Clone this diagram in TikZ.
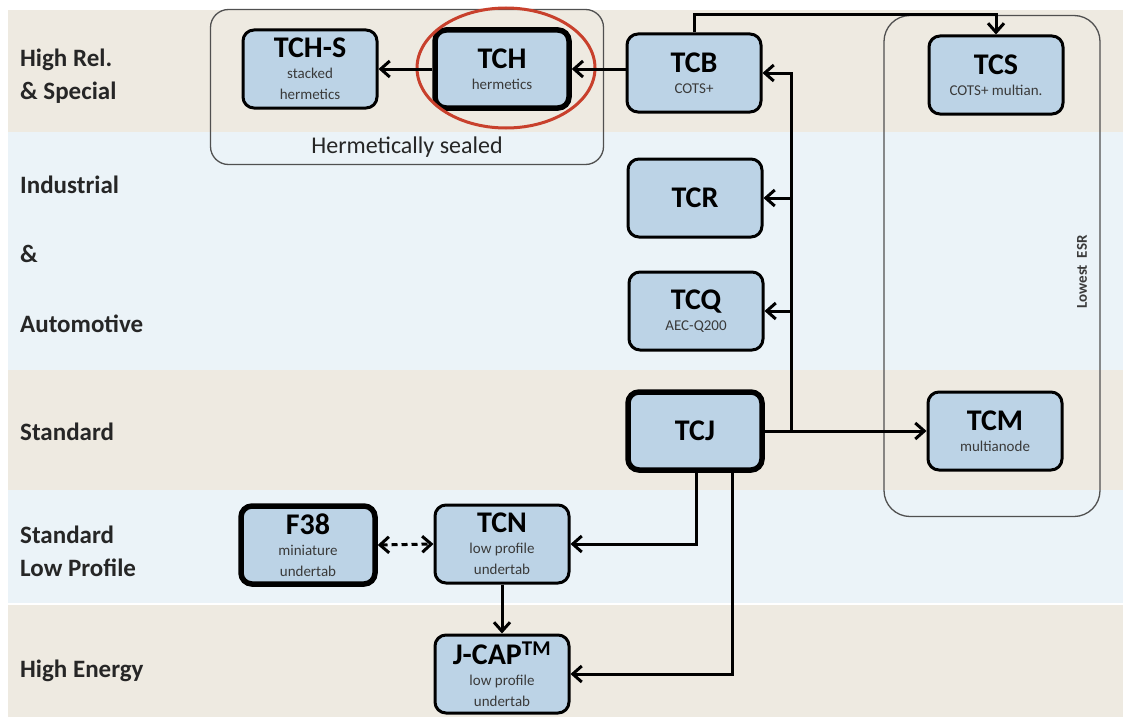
\documentclass[tikz,border=0pt]{standalone}
\usepackage{fontspec}
\setmainfont{Carlito}
\usepackage{tikz}
\usetikzlibrary{arrows.meta, positioning}
\usepackage{xcolor}

\definecolor{bandtan}{HTML}{EEEAE1}
\definecolor{bandsky}{HTML}{EBF3F8}
\definecolor{boxblue}{HTML}{BCD3E6}
\definecolor{rimgray}{HTML}{505050}
\definecolor{subgray}{HTML}{3A3A3A}
\definecolor{markred}{HTML}{C8402C}

\newcommand{\boxtitle}[1]{{\fontsize{30}{30}\selectfont\bfseries #1}}

\begin{document}
\begin{tikzpicture}[
  x=1pt, y=-1pt,
  box/.style={draw, line width=3, rounded corners=11, fill=boxblue,
              minimum width=134, minimum height=78, inner sep=2, align=center,
              text=black, font=\fontsize{15}{21}\selectfont},
  keybox/.style={box, line width=5.5},
  group/.style={draw=rimgray, line width=1.3},
  rowlabel/.style={anchor=west, align=left, inner sep=0, text=black!85,
                   font=\bfseries\fontsize{25}{33}\selectfont},
  link/.style={line width=3, -{Straight Barb[length=9pt, width=16pt]}}
]
  \useasboundingbox (0,0) rectangle (1123,717);

  % bands
  \fill[bandtan] (8,10)  rectangle (1123,132);
  \fill[bandsky] (8,132) rectangle (1123,370);
  \fill[bandtan] (8,370) rectangle (1123,490);
  \fill[bandsky] (8,490) rectangle (1123,603);
  \fill[bandtan] (8,605) rectangle (1123,717);

  % row labels
  \node[rowlabel] (relrow)  at (20,76)  {High Rel.\\\& Special};
  \node[rowlabel] (indrow)  at (20,185) {Industrial};
  \node[rowlabel] (amprow)  at (20,254) {\&};
  \node[rowlabel] (autorow) at (20,324) {Automotive};
  \node[rowlabel] (stdrow)  at (20,432) {Standard};
  \node[rowlabel] (lowrow)  at (20,551) {Standard\\Low Profile};
  \node[rowlabel] (herow)   at (20,671) {High Energy};

  % groups
  \node[group, rounded corners=18, minimum width=393, minimum height=155]
    (sealed) at (407,87) {};
  \node[above=4pt of sealed.south, font=\fontsize{24}{24}\selectfont, text=black!85]
    (sealedlbl) {Hermetically sealed};
  \node[group, rounded corners=26, minimum width=216, minimum height=501]
    (lowesr) at (992,266) {};
  \node[rotate=90, font=\bfseries\fontsize{15}{15}\selectfont, text=subgray]
    (esrlbl) at (1082,272) {Lowest\ \ ESR};

  % parts
  \node[box]    (tchs) at (310,69)  {\boxtitle{TCH-S}\\{\color{subgray}stacked}\\{\color{subgray}hermetics}};
  \node[keybox] (tch)  at (502,69)  {\boxtitle{TCH}\\{\color{subgray}hermetics}};
  \node[box]    (tcb)  at (694,73)  {\boxtitle{TCB}\\{\color{subgray}COTS+}};
  \node[box]    (tcs)  at (996,75)  {\boxtitle{TCS}\\{\color{subgray}COTS+ multian.}};
  \node[box]    (tcr)  at (695,198) {\boxtitle{TCR}};
  \node[box]    (tcq)  at (696,311) {\boxtitle{TCQ}\\{\color{subgray}AEC-Q200}};
  \node[keybox] (tcj)  at (695,431) {\boxtitle{TCJ}};
  \node[box]    (tcm)  at (995,431) {\boxtitle{TCM}\\{\color{subgray}multianode}};
  \node[keybox] (f38)  at (308,545) {\boxtitle{F38}\\{\color{subgray}miniature}\\{\color{subgray}undertab}};
  \node[box]    (tcn)  at (502,544) {\boxtitle{TCN}\\{\color{subgray}low profile}\\{\color{subgray}undertab}};
  \node[box]    (jcap) at (502,674) {\boxtitle{J-CAP\textsuperscript{TM}}\\{\color{subgray}low profile}\\{\color{subgray}undertab}};

  \draw[markred, line width=3] (506,68) ellipse [x radius=89, y radius=60];

  % connections
  \coordinate (topbar) at (0,15);
  \coordinate (hub) at (791,432);
  \draw[link] (tch.west) -- (tchs.east);
  \draw[link] (tcb.west |- tch.east) -- (tch.east);
  \draw[link] (tcb.north) |- (topbar -| tcs.north) -- (tcs.north);
  \draw[link] (hub) |- (tcb.east);
  \draw[link] (hub) |- (tcr.east);
  \draw[link] (hub) |- (tcq.east);
  \draw[link] (tcj.east) -- (tcm.west);
  \draw[link] ([xshift=1]tcj.south) |- (tcn.east);
  \draw[link] ([xshift=37]tcj.south) |- (jcap.east);
  \draw[link] (tcn.south) -- (jcap.north);
  \draw[link, dashed, dash pattern=on 6pt off 4pt,
        {Straight Barb[length=9pt, width=16pt]}-{Straight Barb[length=9pt, width=16pt]}]
    (f38.east) -- (tcn.west);
\end{tikzpicture}
\end{document}
